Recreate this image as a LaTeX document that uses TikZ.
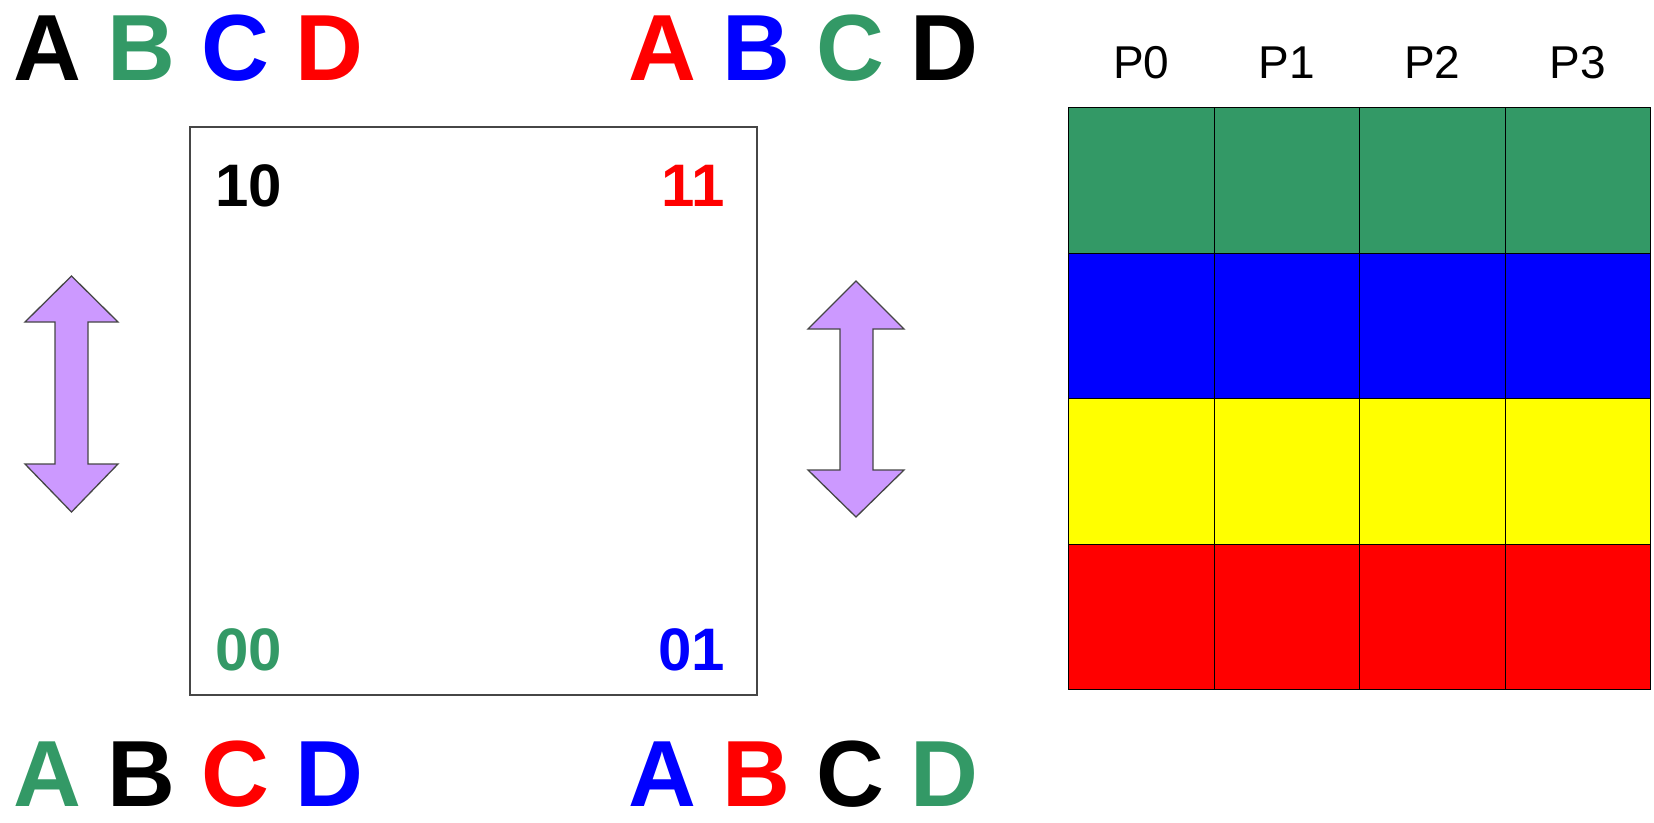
\documentclass[tikz,border=0pt]{standalone}
\usepackage{fontspec}
\setmainfont{Liberation Sans}
\definecolor{mygreen}{RGB}{51,153,102}
\definecolor{mypurple}{RGB}{204,153,255}
\definecolor{myyellow}{RGB}{255,255,0}
\definecolor{myblue}{RGB}{0,0,255}
\definecolor{myred}{RGB}{255,0,0}
\definecolor{outl}{RGB}{70,70,70}
\begin{document}
\begin{tikzpicture}[x=1pt,y=-1pt,
  bigletters/.style={anchor=base west,inner sep=0pt,text depth=0pt,font=\fontsize{94}{100}\selectfont\bfseries},
  corner/.style={inner sep=0pt,font=\fontsize{60}{64}\selectfont\bfseries},
  plabel/.style={inner sep=0pt,font=\fontsize{46}{50}\selectfont},
  dblarrow/.style={fill=mypurple,draw=outl,line width=1.3pt,line join=miter},
  cellstyle/.style={draw=black,line width=0.8pt}]
\useasboundingbox (0,0) rectangle (1654,822);

% letter rows
\node[bigletters] (tl) at (13,80) {\color{black}A {\color{mygreen}B} {\color{myblue}C} {\color{myred}D}};
\node[bigletters] (tr) at (628,80) {\color{myred}A {\color{myblue}B} {\color{mygreen}C} {\color{black}D}};
\node[bigletters] (bl) at (13,806) {\color{mygreen}A {\color{black}B} {\color{myred}C} {\color{myblue}D}};
\node[bigletters] (br) at (628,806) {\color{myblue}A {\color{myred}B} {\color{black}C} {\color{mygreen}D}};

% square
\draw[draw=outl,line width=1.6pt] (190,127) rectangle (757,695);
\node[corner,anchor=base west,text=black] (n10) at (215,206) {10};
\node[corner,anchor=base east,text=myred] (n11) at (725,206) {11};
\node[corner,anchor=base west,text=mygreen] (n00) at (215,670) {00};
\node[corner,anchor=base east,text=myblue] (n01) at (725,670) {01};

% double arrows
\draw[dblarrow] (71.5,276) -- (118,322) -- (88,322) -- (88,464) -- (118,464) -- (71.5,512)
  -- (25,464) -- (55,464) -- (55,322) -- (25,322) -- cycle;
\draw[dblarrow] (856,281) -- (904,329) -- (873,329) -- (873,470) -- (904,470) -- (856,517)
  -- (808,470) -- (840,470) -- (840,329) -- (808,329) -- cycle;

% table
\foreach \c/\lab [count=\i from 0] in {1068.5/P0,1214/P1,1359.5/P2,1505/P3}{
  \node[plabel,anchor=base] (p\i) at (\c+72.75,78) {\lab};
  \foreach \r/\col [count=\j from 0] in {107.5/mygreen,253/myblue,398.5/myyellow,544/myred}{
    \draw[cellstyle,fill=\col] (\c,\r) rectangle (\c+145.5,\r+145.5);
  }
}
\end{tikzpicture}
\end{document}
